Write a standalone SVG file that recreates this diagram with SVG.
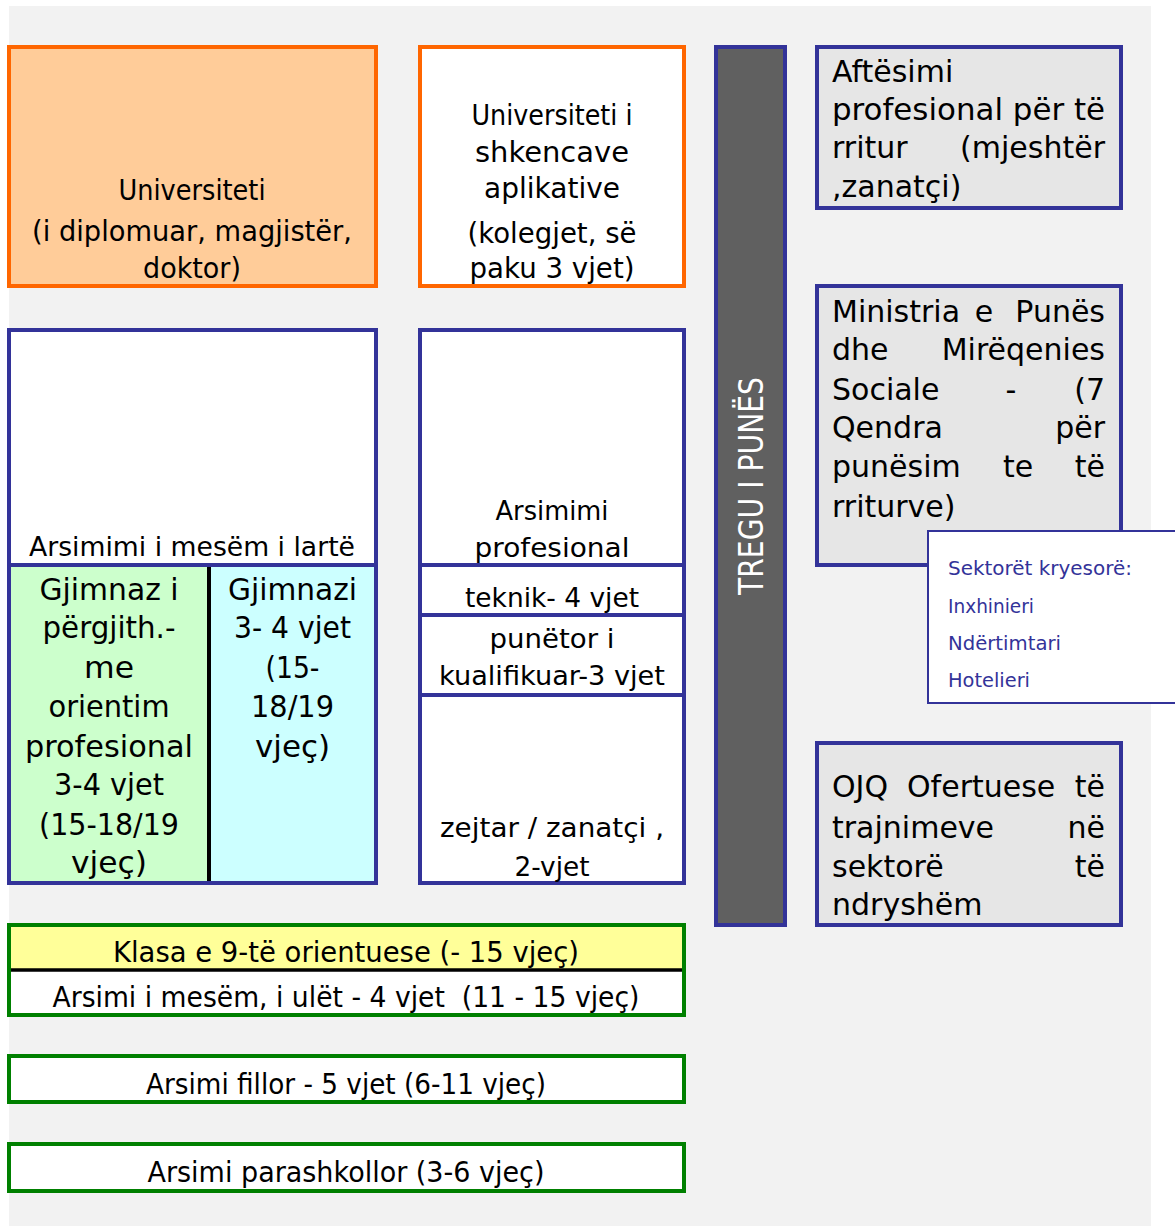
<svg xmlns="http://www.w3.org/2000/svg" width="1175" height="1226" viewBox="0 0 1175 1226">
<style>
text{font-family:"DejaVu Sans","Liberation Sans",sans-serif;fill:#000}
.c{text-anchor:middle}
.e{text-anchor:end}
.orange{stroke:#ff6600;stroke-width:4}
.blue{stroke:#333399;stroke-width:4}
.green{stroke:#008000;stroke-width:4}
.f30{font-size:30px}
.f28{font-size:28px}
.f27{font-size:27px}
.side{fill:#e6e6e6}
.sek{font-size:20px;fill:#333399}
</style>
<rect x="0" y="0" width="1175" height="1226" fill="#ffffff"/>
<rect x="9" y="6" width="1142" height="1220" fill="#f2f2f2"/>

<g id="universiteti">
<rect x="9" y="47" width="367" height="239" fill="#ffcc99" class="orange"/>
<text class="c" font-size="27.5" x="192" y="200" textLength="147" lengthAdjust="spacingAndGlyphs">Universiteti</text>
<text class="c" font-size="27.5" x="192" y="241" textLength="320" lengthAdjust="spacingAndGlyphs">(i diplomuar, magjistër,</text>
<text class="c" font-size="27.5" x="192" y="278" textLength="98" lengthAdjust="spacingAndGlyphs">doktor)</text>
</g>

<g id="universiteti-shkencave">
<rect x="420" y="47" width="264" height="239" fill="#ffffff" class="orange"/>
<text class="c f28" x="552" y="125" textLength="161" lengthAdjust="spacingAndGlyphs">Universiteti i</text>
<text class="c f28" x="552" y="162" textLength="154" lengthAdjust="spacingAndGlyphs">shkencave</text>
<text class="c f28" x="552" y="198" textLength="136" lengthAdjust="spacingAndGlyphs">aplikative</text>
<text class="c f28" x="552" y="243" textLength="169" lengthAdjust="spacingAndGlyphs">(kolegjet, së</text>
<text class="c f28" x="552" y="278" textLength="165" lengthAdjust="spacingAndGlyphs">paku 3 vjet)</text>
</g>

<g id="tregu-i-punes">
<rect x="716" y="47" width="69" height="878" fill="#606060" class="blue"/>
<text class="c" font-size="34" x="763" y="486" transform="rotate(-90 763 486)" textLength="218" lengthAdjust="spacingAndGlyphs" style="fill:#ffffff">TREGU I PUNËS</text>
</g>

<g id="aftesimi">
<rect x="817" y="47" width="304" height="161" class="side blue"/>
<text class="f30" x="832" y="82">Aftësimi</text>
<text class="f30" x="832" y="120" textLength="273" lengthAdjust="spacingAndGlyphs">profesional për të</text>
<text class="f30" x="832" y="158">rritur</text>
<text class="f30 e" x="1105" y="158">(mjeshtër</text>
<text class="f30" x="832" y="197">,zanatçi)</text>
</g>

<g id="ministria">
<rect x="817" y="286" width="304" height="279" class="side blue"/>
<text class="f30" x="832" y="322">Ministria</text>
<text class="f30 c" x="984" y="322">e</text>
<text class="f30 e" x="1105" y="322">Punës</text>
<text class="f30" x="832" y="360">dhe</text>
<text class="f30 e" x="1105" y="360">Mirëqenies</text>
<text class="f30" x="832" y="400">Sociale</text>
<text class="f30 c" x="1011" y="400">-</text>
<text class="f30 e" x="1105" y="400">(7</text>
<text class="f30" x="832" y="438">Qendra</text>
<text class="f30 e" x="1105" y="438">për</text>
<text class="f30" x="832" y="477">punësim</text>
<text class="f30 c" x="1018" y="477">te</text>
<text class="f30 e" x="1105" y="477">të</text>
<text class="f30" x="832" y="517">rriturve)</text>
</g>

<g id="sektoret">
<rect x="928" y="531" width="260" height="172" fill="#ffffff" stroke="#333399" stroke-width="2"/>
<text class="sek" x="948" y="575" textLength="184" lengthAdjust="spacingAndGlyphs">Sektorët kryesorë:</text>
<text class="sek" x="948" y="613" textLength="86" lengthAdjust="spacingAndGlyphs">Inxhinieri</text>
<text class="sek" x="948" y="650" textLength="113" lengthAdjust="spacingAndGlyphs">Ndërtimtari</text>
<text class="sek" x="948" y="687" textLength="82" lengthAdjust="spacingAndGlyphs">Hotelieri</text>
</g>

<g id="ojq">
<rect x="817" y="743" width="304" height="182" class="side blue"/>
<text class="f30" x="832" y="797">OJQ</text>
<text class="f30" x="907" y="797">Ofertuese</text>
<text class="f30 e" x="1105" y="797">të</text>
<text class="f30" x="832" y="838">trajnimeve</text>
<text class="f30 e" x="1105" y="838">në</text>
<text class="f30" x="832" y="877">sektorë</text>
<text class="f30 e" x="1105" y="877">të</text>
<text class="f30" x="832" y="915">ndryshëm</text>
</g>

<g id="arsimi-mesem-larte">
<rect x="9" y="330" width="367" height="553" fill="#ffffff" class="blue"/>
<rect x="11" y="567" width="196" height="314" fill="#ccffcc"/>
<rect x="211" y="567" width="163" height="314" fill="#ccffff"/>
<line x1="9" y1="565" x2="376" y2="565" class="blue"/>
<line x1="209" y1="567" x2="209" y2="881" stroke="#000000" stroke-width="4"/>
<text class="c f27" x="192" y="556" textLength="326" lengthAdjust="spacingAndGlyphs">Arsimimi i mesëm i lartë</text>
</g>

<g id="gjimnaz-orientim">
<text class="c f30" x="109" y="600" textLength="139" lengthAdjust="spacingAndGlyphs">Gjimnaz i</text>
<text class="c f30" x="109" y="638" textLength="133" lengthAdjust="spacingAndGlyphs">përgjith.-</text>
<text class="c f30" x="109" y="678" textLength="50" lengthAdjust="spacingAndGlyphs">me</text>
<text class="c f30" x="109" y="717" textLength="121" lengthAdjust="spacingAndGlyphs">orientim</text>
<text class="c f30" x="109" y="757" textLength="168" lengthAdjust="spacingAndGlyphs">profesional</text>
<text class="c f30" x="109" y="795" textLength="110" lengthAdjust="spacingAndGlyphs">3-4 vjet</text>
<text class="c f30" x="109" y="835" textLength="140" lengthAdjust="spacingAndGlyphs">(15-18/19</text>
<text class="c f30" x="109" y="873" textLength="76" lengthAdjust="spacingAndGlyphs">vjeç)</text>
</g>

<g id="gjimnazi">
<text class="c f30" x="292.5" y="600" textLength="129" lengthAdjust="spacingAndGlyphs">Gjimnazi</text>
<text class="c f30" x="292.5" y="638" textLength="117" lengthAdjust="spacingAndGlyphs">3- 4 vjet</text>
<text class="c f30" x="292.5" y="678" textLength="54" lengthAdjust="spacingAndGlyphs">(15-</text>
<text class="c f30" x="292.5" y="717" textLength="83" lengthAdjust="spacingAndGlyphs">18/19</text>
<text class="c f30" x="292.5" y="757" textLength="75" lengthAdjust="spacingAndGlyphs">vjeç)</text>
</g>

<g id="arsimimi-profesional">
<rect x="420" y="330" width="264" height="553" fill="#ffffff" class="blue"/>
<line x1="420" y1="565" x2="684" y2="565" class="blue"/>
<line x1="420" y1="615" x2="684" y2="615" class="blue"/>
<line x1="420" y1="695" x2="684" y2="695" class="blue"/>
<text class="c f27" x="552" y="520" textLength="113" lengthAdjust="spacingAndGlyphs">Arsimimi</text>
<text class="c f27" x="552" y="557" textLength="155" lengthAdjust="spacingAndGlyphs">profesional</text>
<text class="c f27" x="552" y="607" textLength="174" lengthAdjust="spacingAndGlyphs">teknik- 4 vjet</text>
<text class="c f27" x="552" y="648" textLength="125" lengthAdjust="spacingAndGlyphs">punëtor i</text>
<text class="c f27" x="552" y="685" textLength="226" lengthAdjust="spacingAndGlyphs">kualifikuar-3 vjet</text>
<text class="c f27" x="552" y="837" textLength="224" lengthAdjust="spacingAndGlyphs">zejtar / zanatçi ,</text>
<text class="c f27" x="552" y="876" textLength="75" lengthAdjust="spacingAndGlyphs">2-vjet</text>
</g>

<g id="arsimi-mesem-ulet">
<rect x="9" y="925" width="675" height="90" fill="#ffffff" class="green"/>
<rect x="11" y="927" width="671" height="42" fill="#ffff99"/>
<line x1="11" y1="970" x2="682" y2="970" stroke="#000000" stroke-width="3.5"/>
<text class="c" font-size="27.5" x="346" y="962" textLength="466" lengthAdjust="spacingAndGlyphs">Klasa e 9-të orientuese (- 15 vjeç)</text>
<text class="c" font-size="27.5" x="346" y="1007" textLength="587" lengthAdjust="spacingAndGlyphs" xml:space="preserve">Arsimi i mesëm, i ulët - 4 vjet  (11 - 15 vjeç)</text>
</g>

<g id="arsimi-fillor">
<rect x="9" y="1056" width="675" height="46" fill="#ffffff" class="green"/>
<text class="c" font-size="27.5" x="346" y="1094" textLength="400" lengthAdjust="spacingAndGlyphs">Arsimi fillor - 5 vjet (6-11 vjeç)</text>
</g>

<g id="arsimi-parashkollor">
<rect x="9" y="1144" width="675" height="47" fill="#ffffff" class="green"/>
<text class="c" font-size="27.5" x="346" y="1182" textLength="397" lengthAdjust="spacingAndGlyphs">Arsimi parashkollor (3-6 vjeç)</text>
</g>

<g id="connectors"/>
</svg>
